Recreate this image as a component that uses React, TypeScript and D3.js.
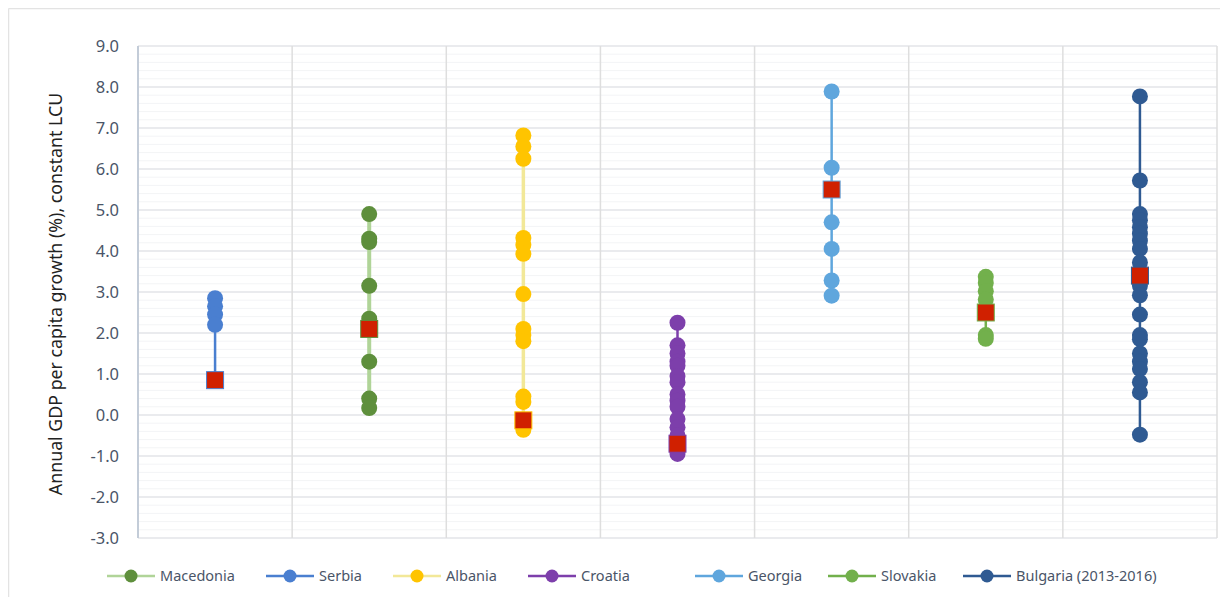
import React from "react";
import * as d3 from "d3";

const categories = ["Macedonia", "Serbia", "Albania", "Croatia", "Georgia", "Slovakia", "Bulgaria (2013-2016)"];
const order = ["Serbia", "Macedonia", "Albania", "Croatia", "Georgia", "Slovakia", "Bulgaria (2013-2016)"];

const macedoniaValues = [4.9, 4.3, 4.22, 3.15, 2.35, 1.3, 0.4, 0.17];
const serbiaValues = [2.85, 2.65, 2.45, 2.2];
const albaniaValues = [6.82, 6.55, 6.25, 4.32, 4.15, 3.93, 2.95, 2.1, 1.95, 1.8, 0.45, 0.32, -0.36];
const croatiaValues = [2.25, 1.7, 1.5, 1.3, 1.2, 0.95, 0.8, 0.5, 0.35, 0.2, -0.1, -0.3, -0.5, -0.95];
const georgiaValues = [7.89, 6.03, 4.7, 4.05, 3.28, 2.91];
const slovakiaValues = [3.37, 3.22, 3.02, 2.82, 1.95, 1.86];
const bulgariaValues = [7.77, 5.72, 4.9, 4.75, 4.58, 4.42, 4.25, 4.05, 3.72, 3.15, 2.92, 2.45, 1.95, 1.85, 1.5, 1.3, 1.12, 0.8, 0.55, -0.48];

const squareValues = [0.85, 2.1, -0.13, -0.7, 5.5, 2.5, 3.4]; // in `order`

const markerColors = ["#4a7fd0", "#5e8f3c", "#ffc400", "#7d3fab", "#5fa6dd", "#72b04c", "#2f5a92"];
const lineColors = ["#4a7fd0", "#b0d498", "#f2e898", "#7d3fab", "#5fa6dd", "#72b04c", "#2f5a92"];
const lineWidths = [2.5, 4, 3.5, 2.5, 2.5, 2.5, 2.5];

const seriesValues = [serbiaValues, macedoniaValues, albaniaValues, croatiaValues, georgiaValues, slovakiaValues, bulgariaValues];

const yTicks = [9, 8, 7, 6, 5, 4, 3, 2, 1, 0, -1, -2, -3];

const W = 1220;
const H = 589;
const plot = { left: 130, right: 1209, top: 38, bottom: 530 };

export default function App() {
  const y = d3.scaleLinear().domain([-3, 9]).range([plot.bottom, plot.top]);
  const x = d3.scaleBand<string>().domain(order).range([plot.left, plot.right]).paddingInner(0).paddingOuter(0);
  const minorTicks = d3.range(-3, 9.0001, 0.2).map((v) => Math.round(v * 10) / 10);
  const font = "'Noto Sans', 'Open Sans', sans-serif";
  const sq = 17;
  const r = 8;

  const legendItems = [
    { name: "Macedonia", idx: 1, x: 99 },
    { name: "Serbia", idx: 0, x: 258 },
    { name: "Albania", idx: 2, x: 385 },
    { name: "Croatia", idx: 3, x: 520 },
    { name: "Georgia", idx: 4, x: 687 },
    { name: "Slovakia", idx: 5, x: 820 },
    { name: "Bulgaria (2013-2016)", idx: 6, x: 955 },
  ];

  return (
    <svg width={W} height={H} style={{ display: "block" }} fontFamily={font}>
      <rect x={0} y={0} width={W} height={H} fill="#fff" />
      <line x1={0.5} y1={0.5} x2={W} y2={0.5} stroke="#e3e3e3" strokeWidth={1.5} />
      <line x1={0.5} y1={0.5} x2={0.5} y2={H} stroke="#e3e3e3" strokeWidth={1.5} />
      {/* minor gridlines */}
      {minorTicks.map((v) => (
        <line key={"m" + v} x1={plot.left} x2={plot.right} y1={y(v)} y2={y(v)} stroke="#f3f4f6" strokeWidth={1} />
      ))}
      {/* major gridlines */}
      {yTicks.map((v) => (
        <line key={"g" + v} x1={plot.left} x2={plot.right} y1={y(v)} y2={y(v)} stroke="#e4e6ea" strokeWidth={1.5} />
      ))}
      {/* vertical category gridlines */}
      {order.map((c) => (
        <line key={"v" + c} x1={(x(c) as number) + x.bandwidth()} x2={(x(c) as number) + x.bandwidth()} y1={plot.top} y2={plot.bottom} stroke="#dedede" strokeWidth={1.5} />
      ))}
      <line x1={plot.left} x2={plot.left} y1={plot.top} y2={plot.bottom} stroke="#c3ccd8" strokeWidth={2} />
      {/* tick labels */}
      {yTicks.map((v) => (
        <text key={"t" + v} x={plot.left - 19} y={y(v)} dy="0.35em" textAnchor="end" fontSize={16.5} fill="#4a5568">
          {v.toFixed(1)}
        </text>
      ))}
      <text transform={`translate(54,${(plot.top + plot.bottom) / 2 + 2}) rotate(-90)`} textAnchor="middle" fontSize={17.8} fill="#222">
        Annual GDP per capita growth (%), constant LCU
      </text>
      {/* series */}
      {order.map((c, i) => {
        const cx = (x(c) as number) + x.bandwidth() / 2;
        const all = [...seriesValues[i], squareValues[i]];
        const ext = d3.extent(all) as [number, number];
        return (
          <g key={c}>
            <line x1={cx} x2={cx} y1={y(ext[0])} y2={y(ext[1])} stroke={lineColors[i]} strokeWidth={lineWidths[i]} />
            {seriesValues[i].map((v, j) => (
              <circle key={j} cx={cx} cy={y(v)} r={r} fill={markerColors[i]} />
            ))}
            <rect x={cx - sq / 2} y={y(squareValues[i]) - sq / 2} width={sq} height={sq} fill="#d02000" stroke={markerColors[i]} strokeWidth={1} />
          </g>
        );
      })}
      {/* legend */}
      {legendItems.map((it) => (
        <g key={it.name} transform={`translate(${it.x},568)`}>
          <line x1={0} x2={48} y1={0} y2={0} stroke={lineColors[it.idx]} strokeWidth={2.5} />
          <circle cx={24} cy={0} r={6.5} fill={markerColors[it.idx]} />
          <text x={53} y={0} dy="0.35em" fontSize={14.5} fill="#4a5568">
            {it.name}
          </text>
        </g>
      ))}
    </svg>
  );
}
